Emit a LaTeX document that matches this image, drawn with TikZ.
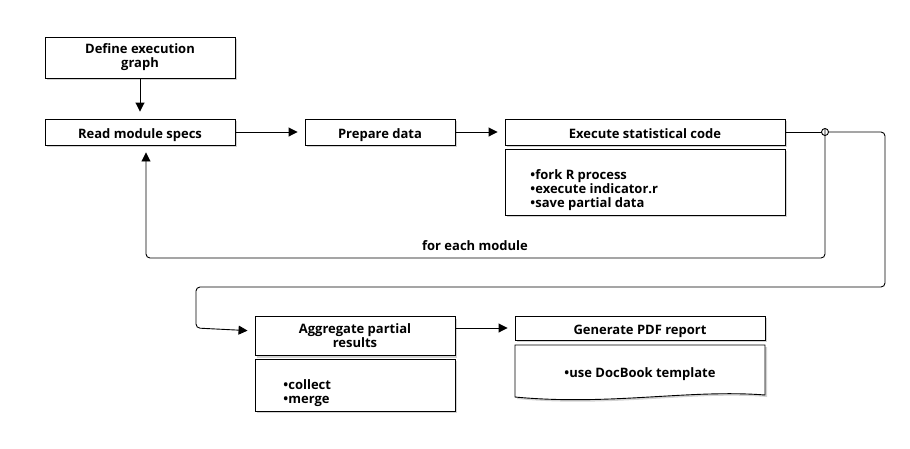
\documentclass[tikz,border=0pt]{standalone}
\usepackage{fontspec}
\setmainfont{Open Sans}
\usetikzlibrary{arrows.meta,shadows}

\begin{document}
\begin{tikzpicture}[
  x=1pt, y=-1pt,
  font=\bfseries\fontsize{13}{14}\selectfont,
  line width=0.9pt,
  box/.style={draw, fill=white, align=center, inner sep=0pt,
    drop shadow={shadow xshift=2pt, shadow yshift=-2pt, opacity=0.35}},
  oneline/.style={text height=12pt, text depth=0pt},
  flow/.style={rounded corners=4pt},
  tip/.style={-{Triangle[length=9pt,width=9pt]}, shorten >=7pt},
]

\useasboundingbox (0,0) rectangle (910,448);

\node [box, minimum width=190, minimum height=41] (define) at (140,57.5) {Define execution\\graph};
\node [box, oneline, minimum width=190, minimum height=26] (read) at (140,132) {Read module specs};
\node [box, oneline, minimum width=150, minimum height=26] (prepare) at (380,132) {Prepare data};
\node [box, oneline, minimum width=280, minimum height=26] (execute) at (645,132) {Execute statistical code};
\node [box, minimum width=280, minimum height=66] (executenote) at (645,182) {};
\node [align=left, anchor=west, inner sep=0pt] (executetext) at (530,190)
  {•fork R process\\•execute indicator.r\\•save partial data};

\node [box, minimum width=200, minimum height=39] (aggregate) at (355,336) {Aggregate partial\\results};
\node [box, minimum width=200, minimum height=52] (aggregatenote) at (355,385) {};
\node [align=left, anchor=west, inner sep=0pt] (aggregatetext) at (283,393)
  {•collect\\•merge};

\node [box, oneline, minimum width=250, minimum height=24] (report) at (640,328) {Generate PDF report};
\draw [fill=white, drop shadow={shadow xshift=2pt, shadow yshift=-2pt, opacity=0.35}]
  (515,345) -- (765,345) -- (765,395) .. controls (690,389) and (610,406) .. (515,397) -- cycle;
\node [oneline, inner sep=0pt] (reporttext) at (640,371) {•use DocBook template};

\draw [fill=white] (825,132) circle [radius=3.5];
\coordinate (fork) at (825,132);
\coordinate (loopend) at (146,258);
\coordinate (outer) at (885,287);
\coordinate (down) at (196,328);

\draw [tip] (define) -- (read);
\draw [tip] (read) -- (prepare);
\draw [tip] (prepare) -- (execute);
\draw (execute) -- ([xshift=-3.5pt]fork);
\draw [flow, tip] ([yshift=3.5pt]fork) |- (loopend) -- ([xshift=6pt]read.south);
\draw [flow, tip] ([xshift=3.5pt]fork) -| (outer) -| (down) -- (aggregate);
\draw [tip] (aggregate.east |- report) -- (report);

\node [oneline] (label) at (475,244) {for each module};

\end{tikzpicture}
\end{document}
